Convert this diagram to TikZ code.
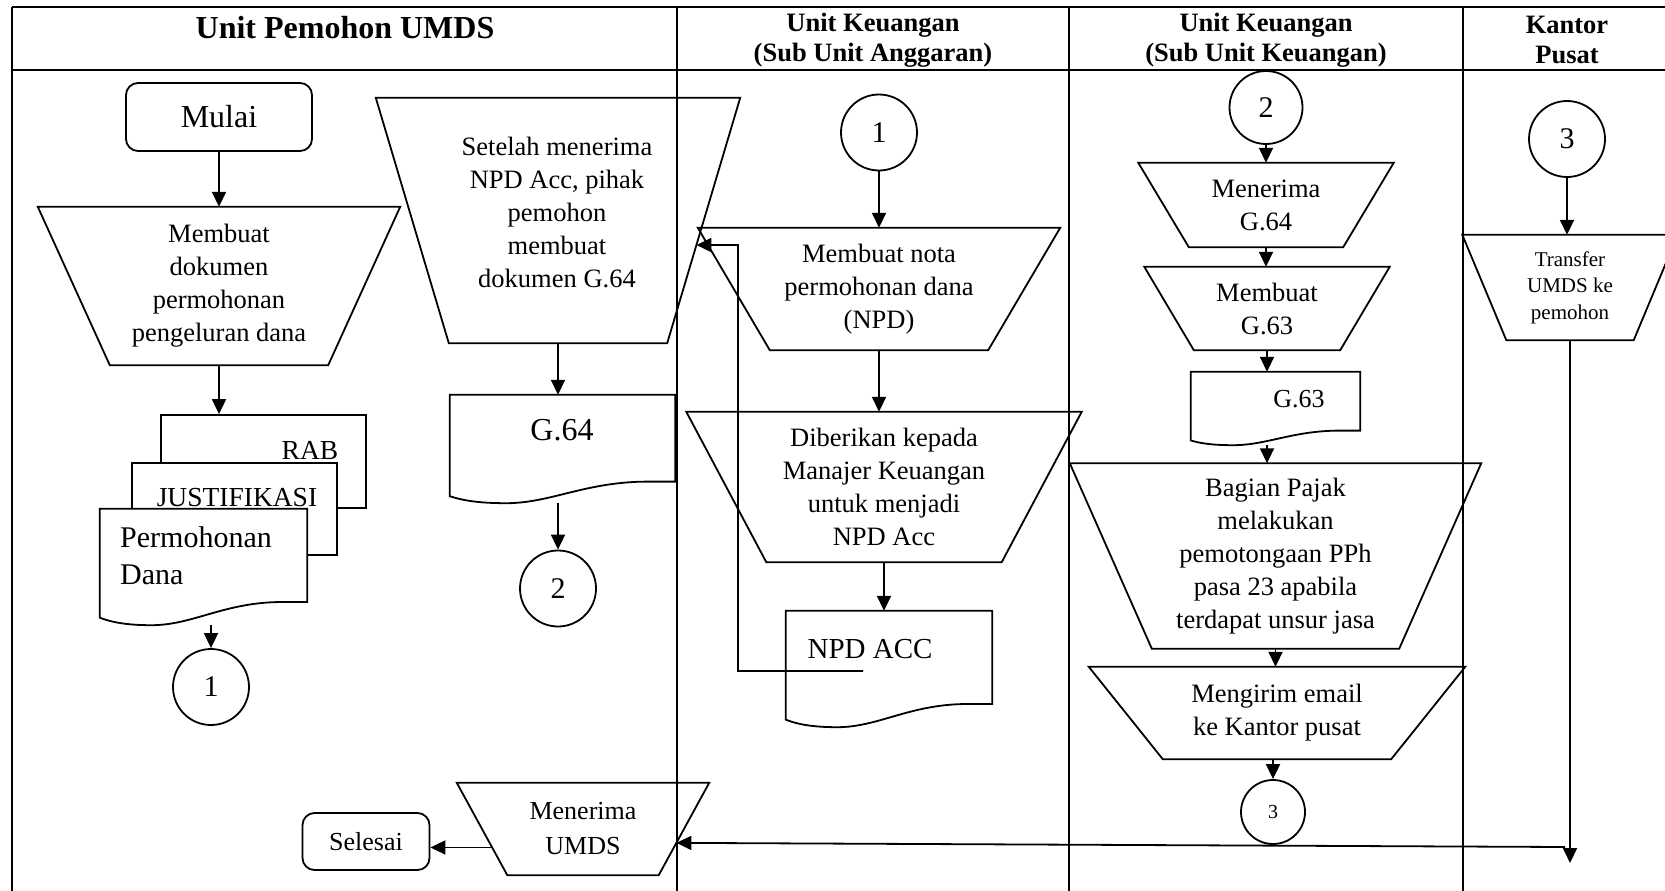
\documentclass[tikz,border=0pt]{standalone}
\usepackage{fontspec}
\setmainfont{Liberation Serif}
\usetikzlibrary{arrows.meta, calc}

\begin{document}
\begin{tikzpicture}[
    x=1pt, y=-1pt,
    ln/.style={line width=1.8pt},
    arr/.style={-{Triangle[length=15pt, width=14pt]}, line width=1.8pt},
    bodytext/.style={font=\fontsize{26.5}{33}\selectfont},
    % manual operation: top width, height, inset of the bottom corners
    manop/.style n args={3}{rectangle, inner sep=0pt, align=center, bodytext,
      minimum width=#1, minimum height=#2,
      append after command={\pgfextra{
        \draw[line width=1.8pt]
          (\tikzlastnode.north west) -- (\tikzlastnode.north east)
          -- ($(\tikzlastnode.south east)+(-#3,0)$)
          -- ($(\tikzlastnode.south west)+(#3,0)$) -- cycle;}}},
    term/.style={rectangle, draw, rounded corners=12pt, line width=1.8pt, bodytext},
    conn/.style={circle, draw, line width=1.8pt, inner sep=0pt, minimum size=76,
                 font=\fontsize{30}{30}\selectfont},
    rbox/.style={rectangle, draw, fill=white, line width=1.8pt, inner sep=0pt},
    % document: width, height down to the lowest point of the wave
    docbox/.style n args={2}{rectangle, inner sep=0pt, minimum width=#1, minimum height=#2,
      append after command={\pgfextra{
        \draw[line width=1.8pt, fill=white]
          (\tikzlastnode.north west) -- (\tikzlastnode.north east)
          -- ($(\tikzlastnode.south east)+(0,-0.2*#2)$)
          -- ($(\tikzlastnode.south east)+(-0.12*#1,-0.2*#2)$)
          .. controls ($(\tikzlastnode.south east)+(-0.4*#1,-0.2*#2)$)
             and ($(\tikzlastnode.south west)+(0.45*#1,0)$)
          .. ($(\tikzlastnode.south west)+(0.25*#1,0)$)
          .. controls ($(\tikzlastnode.south west)+(0.12*#1,0)$)
             and ($(\tikzlastnode.south west)+(0.05*#1,-0.03*#2)$)
          .. ($(\tikzlastnode.south west)+(0,-0.065*#2)$) -- cycle;}}},
    txt/.style={inner sep=0pt, align=left, bodytext},
    lanehead/.style={align=center, font=\bfseries\fontsize{26.5}{30}\selectfont}
]

\useasboundingbox (0,0) rectangle (1665,891);

% --- Lane grid ---
\def\laneA{677}
\def\laneB{1069}
\def\laneC{1463}

\draw[ln] (12,7) -- (1665,7);
\draw[ln] (12,70) -- (1665,70);
\draw[ln] (12,7) -- (12,891);
\draw[ln] (\laneA,7) -- (\laneA,891);
\draw[ln] (\laneB,7) -- (\laneB,891);
\draw[ln] (\laneC,7) -- (\laneC,891);

% --- Lane headers ---
\node[lanehead, font=\bfseries\fontsize{32}{32}\selectfont] (headA) at (345,28) {Unit Pemohon UMDS};
\node[lanehead] (headB) at (873,40) {Unit Keuangan\\(Sub Unit Anggaran)};
\node[lanehead] (headC) at (1266,40) {Unit Keuangan\\(Sub Unit Keuangan)};
\node[lanehead] (headD) at (1567,40) {Kantor\\Pusat};

% --- Unit Pemohon UMDS ---
\node[term, minimum width=186, minimum height=68, font=\fontsize{32}{32}\selectfont] (mulai) at (219,117) {Mulai};
\node[manop={362}{158}{72}] (dokumen) at (219,286)
    {Membuat\\dokumen\\permohonan\\pengeluran dana};
\node[rbox, minimum width=205, minimum height=93] (rab) at (263.5,461.5) {};
\node[txt, font=\fontsize{27.5}{30}\selectfont] (rabtext) at (310,450) {RAB};
\node[rbox, minimum width=205, minimum height=92] (just) at (234.5,509) {};
\node[txt, font=\fontsize{27.5}{30}\selectfont] (justtext) at (237,498) {JUSTIFIKASI};
\node[docbox={207}{116}] (pdana) at (203.5,567) {};
\node[txt, anchor=west, font=\fontsize{30}{37}\selectfont] (pdanatext) at (120,556) {Permohonan\\Dana};
\node[conn] (satuA) at (211,687) {1};

\node[manop={364}{245}{73}] (setelah) at (558,220.5) {};
\node[txt, align=center] (setelahtext) at (557,212) {Setelah menerima\\NPD Acc, pihak\\pemohon\\membuat\\dokumen G.64};
\node[docbox={225}{108}] (gdoc) at (562.5,449) {};
\node[txt, font=\fontsize{32}{32}\selectfont] (gdoctext) at (562,430) {G.64};
\node[conn] (duaA) at (558,588.5) {2};

\node[manop={252}{92}{50.5}, font=\fontsize{26}{35}\selectfont] (terima) at (583,829) {Menerima\\UMDS};
\node[term, minimum width=127, minimum height=57, font=\fontsize{26}{26}\selectfont] (selesai) at (366,841.5) {Selesai};

% --- Sub Unit Anggaran ---
\node[conn] (satuB) at (879,132.5) {1};
\node[manop={362}{122}{72}] (nota) at (879,289)
    {Membuat nota\\permohonan dana\\(NPD)};
\node[manop={395}{150}{80}] (manajer) at (884,487)
    {Diberikan kepada\\Manajer Keuangan\\untuk menjadi\\NPD Acc};
\node[docbox={206}{116}] (npdacc) at (889,669) {};
\node[txt, font=\fontsize{29}{29}\selectfont] (npdacctext) at (870,649) {NPD ACC};

% --- Sub Unit Keuangan ---
\node[conn, minimum size=73] (duaB) at (1266,107.5) {2};
\node[manop={255}{84}{50.5}] (terimag) at (1266,205) {Menerima\\G.64};
\node[manop={245}{83}{49.5}] (buatg) at (1267,308.5) {Membuat\\G.63};
\node[docbox={169}{73}] (g63doc) at (1275.5,408.5) {};
\node[txt, font=\fontsize{26}{26}\selectfont] (g63text) at (1299,399) {G.63};
\node[manop={411}{185}{82}] (pajak) at (1275.5,556)
    {Bagian Pajak\\melakukan\\pemotongaan PPh\\pasa 23 apabila\\terdapat unsur jasa};
\node[manop={376}{92}{74}] (email) at (1277,713)
    {Mengirim email\\ke Kantor pusat};
\node[conn, minimum size=64, font=\fontsize{20}{20}\selectfont] (tigaA) at (1273,812) {3};

% --- Kantor Pusat ---
\node[conn] (tigaB) at (1567,139) {3};
\node[manop={215}{105}{44}, font=\fontsize{21}{26.5}\selectfont] (transfer) at (1570,287.5)
    {Transfer\\UMDS ke\\pemohon};

% --- Free ends and points on slanted sides ---
\coordinate (fbstart) at (863,671);
\coordinate (fbturn) at (738,245);
\coordinate (fbend) at ($(setelah.north east)!0.6!(setelah.south east)+(-0.6*73,0)$);
\coordinate (kpend) at (1569,863);
\coordinate (kpturn) at (1565,847);
\coordinate (terimaL) at ($(terima.north west)!0.7!(terima.south west)+(0.7*50.5,0)$);
\coordinate (terimaR) at ($(terima.north east)!0.65!(terima.south east)+(-0.65*50.5,0)$);

% --- Arrows ---
\draw[arr] (mulai) -- (dokumen);
\draw[arr] (dokumen.south) -- (dokumen.south |- rab.north);
\draw[arr] (pdana.south -| satuA) -- (satuA);
\draw[arr] (setelah.south) -- (setelah.south |- gdoc.north);
\draw[arr] (gdoc.south -| duaA) -- (duaA);
\draw[arr] (terimaL) -- (selesai.east |- terimaL);

\draw[arr] (satuB) -- (satuB |- nota.north);
\draw[arr] (nota.south) -- (nota.south |- manajer.north);
\draw[arr] (manajer.south) -- (manajer.south |- npdacc.north);
\draw[arr] (fbstart) -| (fbturn) -- (fbend);

\draw[arr] (duaB) -- (duaB |- terimag.north);
\draw[arr] (terimag.south) -- (terimag.south |- buatg.north);
\draw[arr] (buatg.south) -- (buatg.south |- g63doc.north);
\draw[arr] (g63doc.south -| buatg) -- (buatg |- pajak.north);
\draw[arr] (pajak.south) -- (pajak.south |- email.north);
\draw[arr] (email.south -| tigaA) -- (tigaA);

\draw[arr] (tigaB) -- (tigaB |- transfer.north);
\draw[arr] (transfer.south) -- (transfer.south |- kpend);
\draw[arr] (kpturn) -- (terimaR);

\end{tikzpicture}
\end{document}
